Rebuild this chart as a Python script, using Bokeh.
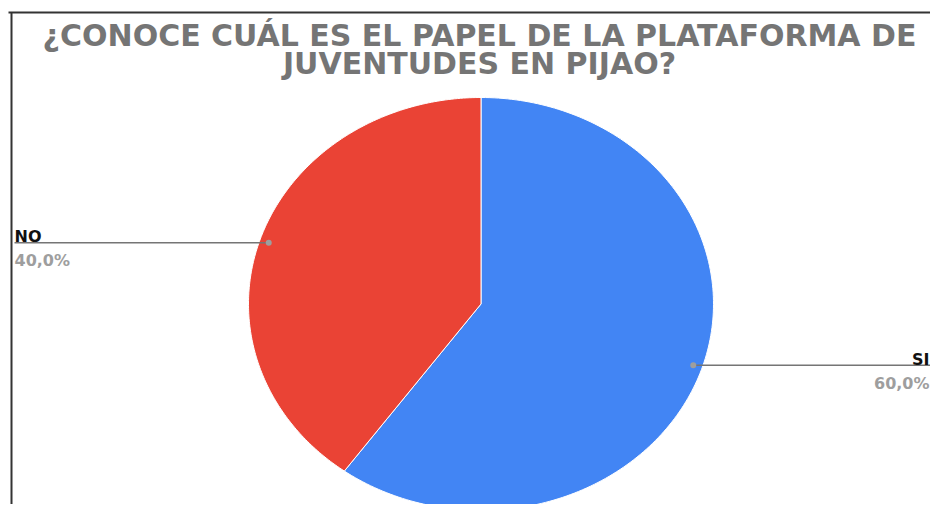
import numpy as np
from bokeh.plotting import figure
from bokeh.models import Range1d
from bokeh.core.properties import value
from bokeh.embed import file_html
from bokeh.resources import INLINE

# ---- data ----
title_lines = ["¿CONOCE CUÁL ES EL PAPEL DE LA PLATAFORMA DE", "JUVENTUDES EN PIJAO?"]
categories = ["SI", "NO"]
values = [60.0, 40.0]
colors = ["#4285f4", "#ea4335"]

W, H = 930, 504
p = figure(width=W, height=H, output_backend="svg", toolbar_location=None,
           x_range=Range1d(0, W), y_range=Range1d(H, 0), min_border=0)
p.axis.visible = False
p.grid.visible = False
p.outline_line_color = None
p.background_fill_color = "white"
p.border_fill_color = "white"

# screenshot frame lines
p.line([8, W], [12, 12], line_color="#333333", line_width=2)
p.line([11, 11], [12, H], line_color="#333333", line_width=2)

# title
p.text(x=[479, 479], y=[35, 63], text=title_lines, text_align="center",
       text_baseline="alphabetic", text_font=value("DejaVu Sans"),
       text_font_style="bold", text_font_size="30px", text_color="#757575")

# pie (elliptical, clockwise from top)
cx, cy, rx, ry = 480.5, 303.5, 232.5, 206.5
total = float(sum(values))
fr = np.array(values) / total
starts = np.concatenate([[0.0], np.cumsum(fr)[:-1]]) * 2 * np.pi
ends = np.cumsum(fr) * 2 * np.pi
xs, ys = [], []
for a0, a1 in zip(starts, ends):
    t = np.linspace(a0, a1, 200)
    xs.append([cx] + list(cx + rx * np.sin(t)))
    ys.append([cy] + list(cy - ry * np.cos(t)))
p.patches(xs, ys, fill_color=colors, line_color="white", line_width=1)

# labels with leader lines
for cat, v, a0, a1 in zip(categories, values, starts, ends):
    m = (a0 + a1) / 2
    dx = cx + 0.96 * rx * np.sin(m)
    dy = cy - 0.96 * ry * np.cos(m)
    left = np.sin(m) < 0
    ex = 14 if left else W
    tx = 14 if left else W - 1
    p.line([dx, ex], [dy, dy], line_color="#757575", line_width=1.5)
    p.scatter([dx], [dy], size=6, fill_color="#9e9e9e", line_color=None)
    align = "left" if left else "right"
    p.text(x=[tx], y=[dy - 6], text=[cat], text_align=align, text_baseline="alphabetic",
           text_font=value("DejaVu Sans"), text_font_style="bold",
           text_font_size="16px", text_color="#111111")
    pct = f"{v:.1f}".replace(".", ",") + "%"
    p.text(x=[tx], y=[dy + 18], text=[pct], text_align=align, text_baseline="alphabetic",
           text_font=value("DejaVu Sans"), text_font_style="bold",
           text_font_size="16px", text_color="#9e9e9e")

open("out.html", "w").write(file_html(p, INLINE))
